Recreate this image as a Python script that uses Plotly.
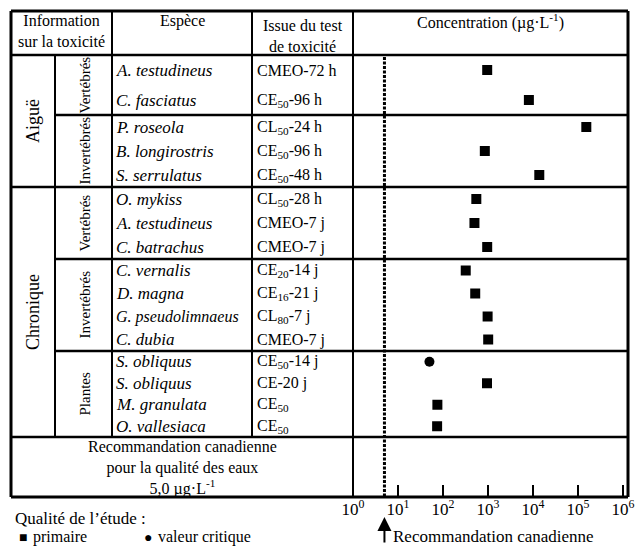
import math
import plotly.graph_objects as go

# ---------------- data ----------------
durations = ["Aiguë"] * 5 + ["Chronique"] * 11
groups = ["Vertébrés", "Vertébrés",
          "Invertébrés", "Invertébrés", "Invertébrés",
          "Vertébrés", "Vertébrés", "Vertébrés",
          "Invertébrés", "Invertébrés", "Invertébrés", "Invertébrés",
          "Plantes", "Plantes", "Plantes", "Plantes"]
species = ["A. testudineus", "C. fasciatus",
           "P. roseola", "B. longirostris", "S. serrulatus",
           "O. mykiss", "A. testudineus", "C. batrachus",
           "C. vernalis", "D. magna", "G. pseudolimnaeus", "C. dubia",
           "S. obliquus", "S. obliquus", "M. granulata", "O. vallesiaca"]
endpoints = ["CMEO-72 h", "CE<sub>50</sub>-96 h",
             "CL<sub>50</sub>-24 h", "CE<sub>50</sub>-96 h", "CE<sub>50</sub>-48 h",
             "CL<sub>50</sub>-28 h", "CMEO-7 j", "CMEO-7 j",
             "CE<sub>20</sub>-14 j", "CE<sub>16</sub>-21 j", "CL<sub>80</sub>-7 j", "CMEO-7 j",
             "CE<sub>50</sub>-14 j", "CE-20 j", "CE<sub>50</sub>", "CE<sub>50</sub>"]
concentrations = [960, 8100, 153000, 850, 13800,
                  550, 500, 960,
                  320, 520, 980, 1010,
                  50, 950, 75, 74]
quality = ["primaire"] * 12 + ["valeur critique"] + ["primaire"] * 3
guideline = 5.0
tick_exponents = [0, 1, 2, 3, 4, 5, 6]

# ---------------- layout geometry (pixels) ----------------
W, H = 639, 546
L, R, T, B = 11, 628, 11, 497
C_SUB, C_SP, C_TEST, C_CONC = 55, 112, 252, 353
HEAD_B = 55
GROUP_EDGES = [55, 115, 187, 259, 351, 437]
DECADE = 45.0
FONT = "Liberation Serif, Times New Roman, serif"

def X(px):
    return px / W

# blocks of consecutive (duration, group)
blocks = []
for i, (d, g) in enumerate(zip(durations, groups)):
    if blocks and blocks[-1][0] == (d, g):
        blocks[-1][1].append(i)
    else:
        blocks.append([(d, g), [i]])

row_y = [0.0] * len(species)
for b, (key, idx) in enumerate(blocks):
    top, bot = GROUP_EDGES[b], GROUP_EDGES[b + 1]
    h = (bot - top) / len(idx)
    for k, i in enumerate(idx):
        row_y[i] = top + (k + 0.5) * h

fig = go.Figure()

# guideline dotted line
fig.add_trace(go.Scatter(x=[guideline, guideline], y=[HEAD_B + 2, B], mode="lines",
                         line=dict(color="black", width=3, dash="3px,1.5px"),
                         showlegend=False, hoverinfo="skip"))

symbols = {"primaire": "square", "valeur critique": "circle"}
for q, sym in symbols.items():
    xs = [c for c, qq in zip(concentrations, quality) if qq == q]
    ys = [y for y, qq in zip(row_y, quality) if qq == q]
    fig.add_trace(go.Scatter(x=xs, y=ys, mode="markers", name=q,
                             marker=dict(symbol=sym, size=10, color="black"),
                             showlegend=False, hoverinfo="x"))

shapes = []
def line(x0, y0, x1, y1, w=2.5):
    shapes.append(dict(type="line", xref="paper", yref="y", x0=X(x0), x1=X(x1),
                       y0=y0, y1=y1, line=dict(color="black", width=w)))

# outer border
line(L, T, R, T, 3)
line(L, B, R, B, 3)
line(L, T, L, B, 3)
line(R, T, R, B, 3)
# header bottom
line(L, HEAD_B, R, HEAD_B)
# vertical column lines
line(C_SUB, HEAD_B, C_SUB, GROUP_EDGES[-1], 2)
line(C_SP, T, C_SP, GROUP_EDGES[-1], 2)
line(C_TEST, T, C_TEST, GROUP_EDGES[-1], 2)
line(C_CONC, T, C_CONC, B, 2)
# group lines
for b in range(1, len(blocks)):
    y = GROUP_EDGES[b]
    full = blocks[b][0][0] != blocks[b - 1][0][0]
    line(L if full else C_SUB, y, R, y)
line(L, GROUP_EDGES[-1], R, GROUP_EDGES[-1])

ann = []
def text(x, y, t, size=15, xanchor="center", angle=0, italic=False):
    ann.append(dict(xref="paper", yref="y", x=X(x), y=y, text=t, showarrow=False,
                    xanchor=xanchor, yanchor="middle", textangle=angle,
                    borderpad=0, borderwidth=0,
                    font=dict(family=FONT, size=size, color="black",
                              style="italic" if italic else "normal")))

# headers
text((L + C_SP) / 2, 31, "Information<br>sur la toxicité", 16)
text((C_SP + C_TEST) / 2, 21, "Espèce", 16)
text((C_TEST + C_CONC) / 2, 36, "Issue du test<br>de toxicité", 16)
text((C_CONC + R) / 2, 21, "Concentration (µg·L<sup>-1</sup>)", 16)

# duration labels (rotated)
dur_runs = []
for b, (key, idx) in enumerate(blocks):
    if dur_runs and dur_runs[-1][0] == key[0]:
        dur_runs[-1][2] = GROUP_EDGES[b + 1]
    else:
        dur_runs.append([key[0], GROUP_EDGES[b], GROUP_EDGES[b + 1]])
for d, y0, y1 in dur_runs:
    text((L + C_SUB) / 2, (y0 + y1) / 2, d, 18, angle=-90)

# group labels (rotated)
for b, (key, idx) in enumerate(blocks):
    text((C_SUB + C_SP) / 2 + 1, (GROUP_EDGES[b] + GROUP_EDGES[b + 1]) / 2, key[1], 15, angle=-90)

# species and endpoints
for sp, ep, y in zip(species, endpoints, row_y):
    text(C_SP + 4, y, sp, 16 if len(sp) > 15 else 17, xanchor="left", italic=True)
    text(C_TEST + 5, y, ep, 16, xanchor="left")

# guideline row
gl_txt = f"{guideline:.1f}".replace(".", ",")
text((L + C_CONC) / 2, 468,
     f"Recommandation canadienne<br>pour la qualité des eaux<br>{gl_txt} µg·L<sup>-1</sup>", 16)

# quality legend
text(15, 518, "Qualité de l’étude :", 17, xanchor="left")
text(19, 537, "■", 14, xanchor="left")
text(33, 537, "primaire", 16, xanchor="left")
text(144, 537, "●", 14, xanchor="left")
text(158, 537, "valeur critique", 16, xanchor="left")

# guideline arrow
ann.append(dict(xref="x", yref="y", x=math.log10(guideline), y=517, ax=0, ay=27,
                text="", showarrow=True, arrowhead=2, arrowsize=1.4, arrowwidth=2,
                arrowcolor="black"))
text(393, 536, "Recommandation canadienne", 17, xanchor="left")

fig.update_layout(
    width=W, height=H, margin=dict(l=0, r=0, t=0, b=0, pad=0, autoexpand=False),
    autosize=False,
    paper_bgcolor="white", plot_bgcolor="white",
    shapes=shapes, annotations=ann, showlegend=False,
    xaxis=dict(type="log", domain=[X(C_CONC), X(R)], range=[0, (R - C_CONC) / DECADE],
               anchor="free", position=(H - B) / H, automargin=False,
               tickvals=[10 ** e for e in tick_exponents],
               ticktext=[f"10<sup>{e}</sup>" for e in tick_exponents],
               ticks="inside", ticklen=12, tickwidth=2, tickcolor="black",
               showgrid=False, zeroline=False, showline=False,
               tickfont=dict(family=FONT, size=17, color="black")),
    yaxis=dict(range=[H, 0], domain=[0, 1], visible=False, showgrid=False,
               zeroline=False, automargin=False),
)

fig.write_html("out.html", config={"displayModeBar": False},
               post_script="document.body.style.margin='0';document.body.style.padding='0';")
